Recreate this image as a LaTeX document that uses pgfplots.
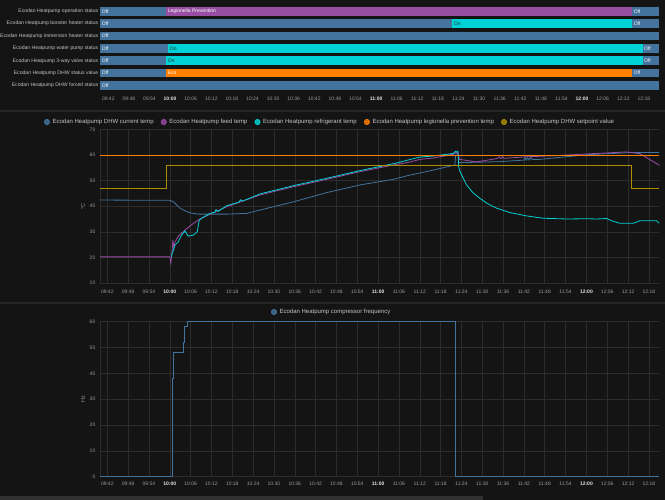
\documentclass[border=0pt]{standalone}
\usepackage{fontspec}
\setmainfont{Liberation Sans}
\usepackage{pgfplots}
\pgfplotsset{compat=1.18}

\definecolor{bg}{HTML}{141414}
\definecolor{sepc}{HTML}{262626}
\definecolor{barc}{HTML}{313131}
\definecolor{gridc}{HTML}{2C2C2C}
\definecolor{tickc}{HTML}{9A9A9A}
\definecolor{hourc}{HTML}{E2E2E2}
\definecolor{labc}{HTML}{C4C4C4}
\definecolor{cblue}{HTML}{44739E}
\definecolor{cpurple}{HTML}{984EA3}
\definecolor{ccyan}{HTML}{00D2D5}
\definecolor{corange}{HTML}{FF7F00}
\definecolor{cgold}{HTML}{AF8D00}

\newcommand{\hr}[1]{\textcolor{hourc}{\bfseries #1}}
% timeline segment: top, bottom, from, to, colour
\newcommand{\seg}[5]{\addplot[fill=#5, draw=none, forget plot] coordinates {(#3,#1) (#4,#1) (#4,#2) (#3,#2)};}
% segment text: time, row middle, text, colour
\newcommand{\lab}[4]{\node[anchor=west, inner sep=0pt, font=\fontsize{5}{6}\selectfont, text=#4] at (axis cs:#1,#2) {#3};}

\pgfplotsset{
  base/.style={scale only axis, anchor=south west, clip=false,
    axis line style={draw=none}, tick style={draw=none},
    tick label style={font=\fontsize{5}{6}\selectfont, text=tickc, inner sep=0pt},
    /pgf/number format/assume math mode=true},
  timeticks/.style={xtick={42,48,...,198},
    xticklabels={09:42,09:48,09:54,\hr{10:00},10:06,10:12,10:18,10:24,10:30,10:36,10:42,10:48,10:54,\hr{11:00},11:06,11:12,11:18,11:24,11:30,11:36,11:42,11:48,11:54,\hr{12:00},12:06,12:12,12:18}},
  lgc/.style={legend image code/.code={\draw[draw=#1, fill=#1!85!black, line width=0.6pt] (0pt,0) circle (2.7pt);}},
  lgstyle/.style={legend style={draw=none, fill=none, text=labc, inner sep=0pt,
    nodes={inner sep=0.6pt},
    font=\fontsize{6}{7}\selectfont, legend columns=-1,
    /tikz/every odd column/.append style={column sep=2pt},
    /tikz/every even column/.append style={column sep=6.5pt}}},
}

\begin{document}
\begin{tikzpicture}[x=1pt,y=1pt]
\fill[bg] (0,0) rectangle (665,500);
\useasboundingbox (0,0) rectangle (665,500);
\fill[sepc] (0,388.3) rectangle (665,390.3);
\fill[sepc] (0,195.7) rectangle (665,197.7);
\fill[barc] (0,0) rectangle (483,3.5);

% ---------- timeline ----------
\begin{axis}[base, timeticks, at={(100.3pt,407pt)}, width=558.7pt, height=88pt,
  xmin=39.67, xmax=202.4, ymin=5, ymax=93, y dir=reverse, ytick=\empty,
  xticklabel style={yshift=-3.9pt}]
\seg{7}{15.6}{39.67}{58.8}{cblue}
\seg{7}{15.6}{58.8}{194.6}{cpurple}
\seg{7}{15.6}{194.6}{202.4}{cblue}
\seg{19.37}{27.97}{39.67}{142.2}{cblue}
\seg{19.37}{27.97}{142.2}{194.6}{ccyan}
\seg{19.37}{27.97}{194.6}{202.4}{cblue}
\seg{31.74}{40.34}{39.67}{202.4}{cblue}
\seg{44.11}{52.71}{39.67}{59.4}{cblue}
\seg{44.11}{52.71}{59.4}{197.6}{ccyan}
\seg{44.11}{52.71}{197.6}{202.4}{cblue}
\seg{56.48}{65.08}{39.67}{58.8}{cblue}
\seg{56.48}{65.08}{58.8}{197.6}{ccyan}
\seg{56.48}{65.08}{197.6}{202.4}{cblue}
\seg{68.85}{77.45}{39.67}{58.8}{cblue}
\seg{68.85}{77.45}{58.8}{194.6}{corange}
\seg{68.85}{77.45}{194.6}{202.4}{cblue}
\seg{81.22}{89.82}{39.67}{202.4}{cblue}
\lab{40.1}{11.3}{Off}{white}
\lab{59.3}{11.3}{Legionella Prevention}{white}
\lab{195.0}{11.3}{Off}{white}
\lab{40.1}{23.67}{Off}{white}
\lab{142.6}{23.67}{On}{black!85}
\lab{195.0}{23.67}{Off}{white}
\lab{40.1}{36.04}{Off}{white}
\lab{40.1}{48.41}{Off}{white}
\lab{59.9}{48.41}{On}{black!85}
\lab{198.0}{48.41}{Off}{white}
\lab{40.1}{60.78}{Off}{white}
\lab{59.3}{60.78}{On}{black!85}
\lab{198.0}{60.78}{Off}{white}
\lab{40.1}{73.15}{Off}{white}
\lab{59.3}{73.15}{Eco}{white}
\lab{195.0}{73.15}{Off}{white}
\lab{40.1}{85.52}{Off}{white}
\end{axis}

\begin{scope}[every node/.style={anchor=east, inner sep=0pt, text=labc, font=\fontsize{5.1}{6}\selectfont}]
\node at (98.5,488.7) {Ecodan Heatpump operation status};
\node at (98.5,476.33) {Ecodan Heatpump booster heater status};
\node at (98.5,463.96) {Ecodan Heatpump immersion heater status};
\node at (98.5,451.59) {Ecodan Heatpump water pump status};
\node at (98.5,439.22) {Ecodan Heatpump 3-way valve status};
\node at (98.5,426.85) {Ecodan Heatpump DHW status value};
\node at (98.5,414.48) {Ecodan Heatpump DHW forced status};
\end{scope}

% ---------- temperatures ----------
\begin{axis}[base, timeticks, lgstyle, at={(100pt,217pt)}, width=559.3pt, height=153.6pt,
  xmin=39.9, xmax=201, ymin=10, ymax=70, ytick={10,20,...,70},
  grid=major, grid style={gridc, line width=0.5pt},
  xticklabel style={yshift=-6.9pt}, yticklabel style={xshift=-4.5pt},
  ylabel={°C}, ylabel style={at={(axis description cs:-0.0304,0.5)}, anchor=center, text=tickc, font=\fontsize{5.5}{6}\selectfont},
  legend style={at={(0.41,1.048)}, anchor=center}]
\draw[gridc, line width=0.5pt] (rel axis cs:0,0) -- (rel axis cs:0,1);
\addplot[cblue, line width=0.8pt, lgc=cblue] coordinates {
 (39.9,42.4) (59.9,42.3) (61.0,41.8) (62.9,39.3) (64.4,38.2) (65.8,37.4) (68.2,36.9)
 (76.4,36.9) (82.2,37.2) (86,38.5) (95.6,41.7) (105.2,45.3) (114.8,48.3) (124.4,50.5)
 (128.7,52.0) (135.9,54.1) (142.1,56.1) (142.4,60.5) (143.0,60.5) (143.3,57.0)
 (155.1,57.4) (162.0,58.0) (162.3,59.0) (162.7,58.0) (163.1,59.0) (163.5,58.0) (164.0,59.0) (164.4,58.2)
 (166.6,58.3) (180.1,60.1) (193.5,61) (201,61)};
\addlegendentry{Ecodan Heatpump DHW current temp}
\addplot[cpurple, line width=0.8pt, lgc=cpurple] coordinates {
 (39.9,20.2) (60.0,20.2) (60.3,17.7) (60.6,21.5) (60.9,26.8) (61.2,23.5) (61.5,26)
 (62.45,28.3) (64.4,30.7) (66.8,33.3) (68.7,35) (71.6,36.9) (76.4,39.8) (86,44.4)
 (95.6,47.6) (105.2,50.5) (114.8,53.5) (124.4,56.1) (128.7,57.1) (132.1,58.3)
 (135.9,58.8) (141.7,60.3) (142.2,61) (143.0,61) (143.4,58.3) (148.4,57.3) (154.2,58.6)
 (155.0,59.3) (155.4,58.6) (155.8,59.3) (156.2,58.7)
 (162.8,59.3) (170.5,59.7) (180.1,60.4) (191.6,61.2) (195.4,60.5) (198.3,58.2) (201,56)};
\addlegendentry{Ecodan Heatpump feed temp}
\addplot[ccyan, line width=0.8pt, lgc=ccyan] coordinates {
 (60.4,20.2) (61.5,24.8) (62.45,26.1) (63.4,28.7) (64.4,30.3) (65.3,28.3) (66.8,28.7)
 (67.9,30) (68.5,34.6) (69.2,35.3) (71.6,37.2) (73.0,37.6) (73.3,38.6) (74.0,38.0)
 (76.4,40.2) (80,41.6) (80.3,42.5) (81,42.0) (86,44.8) (95.6,48.0) (105.2,50.9)
 (114.8,53.9) (124.4,56.6) (132.1,59.2) (135.9,59.6) (141.7,60.6) (142.3,61.5)
 (143.0,61.4) (143.2,55.5) (143.6,53.5) (145.5,48.3) (147.3,45.3) (149.3,43.1)
 (151.5,41.0) (154.2,39.2) (158.0,37.5) (162.8,36.2) (167.6,35.3) (174.3,35.0)
 (180.1,35.1) (183,35.0) (185.8,35.2) (187.5,34.2) (189.7,33.3) (193.5,33.3)
 (195.4,34.3) (200.2,34.3) (201,33.3)};
\addlegendentry{Ecodan Heatpump refrigerant temp}
\addplot[corange, line width=0.8pt, lgc=corange] coordinates {(39.9,60) (201,60)};
\addlegendentry{Ecodan Heatpump legionella prevention temp}
\addplot[cgold, line width=0.8pt, const plot, lgc=cgold] coordinates {
 (39.9,47) (59.1,56) (193.0,47) (201,47)};
\addlegendentry{Ecodan Heatpump DHW setpoint value}
\end{axis}

% ---------- compressor ----------
\begin{axis}[base, timeticks, lgstyle, at={(100pt,23.3pt)}, width=559.3pt, height=155pt,
  xmin=39.9, xmax=201, ymin=0, ymax=60, ytick={0,10,...,60},
  grid=major, grid style={gridc, line width=0.5pt},
  xticklabel style={yshift=-5.5pt}, yticklabel style={xshift=-4.5pt},
  ylabel={Hz}, ylabel style={at={(axis description cs:-0.0304,0.5)}, anchor=center, text=tickc, font=\fontsize{5.5}{6}\selectfont},
  legend style={at={(0.413,1.0626)}, anchor=center}]
\draw[gridc, line width=0.5pt] (rel axis cs:0,0) -- (rel axis cs:0,1);
\addplot[cblue, line width=0.8pt, const plot, lgc=cblue] coordinates {
 (39.9,0) (60.8,38) (61.0,48) (63.9,52) (64.1,58) (65.0,60) (142.4,0) (201,0)};
\addlegendentry{Ecodan Heatpump compressor frequency}
\end{axis}
\end{tikzpicture}
\end{document}
